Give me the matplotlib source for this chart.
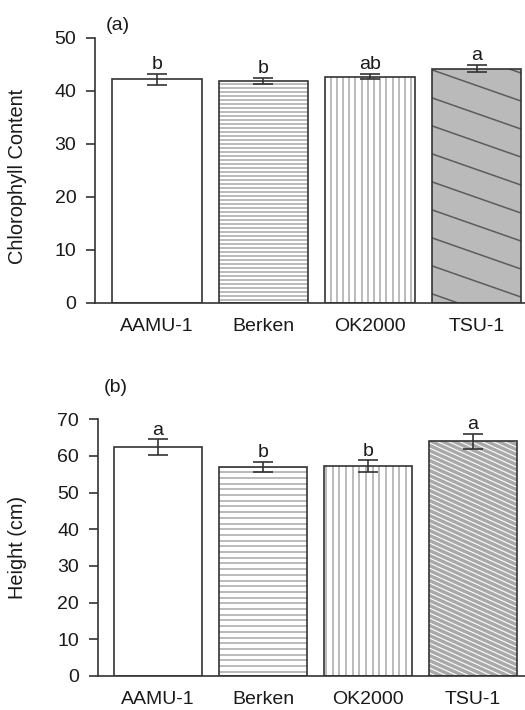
import numpy as np
import matplotlib
matplotlib.use('Agg')
import matplotlib.pyplot as plt
from matplotlib.collections import LineCollection

cultivars = ['AAMU-1', 'Berken', 'OK2000', 'TSU-1']
chlorophyll = [42.2, 41.9, 42.7, 44.2]
chlorophyll_se = [1.0, 0.6, 0.5, 0.7]
chlorophyll_letters = ['b', 'b', 'ab', 'a']
height = [62.4, 57.0, 57.2, 64.0]
height_se = [2.1, 1.35, 1.6, 2.0]
height_letters = ['a', 'b', 'b', 'a']

plt.rcParams['font.family'] = ['Liberation Sans', 'DejaVu Sans']

FW, FH = 525, 710
fig = plt.figure(figsize=(FW / 100, FH / 100), dpi=100)
DARK = '#333333'
STRIPE = '#a8a8a8'
TXT = '#1a1a1a'
FS = 14


def add_texture(ax, patch, kind, spacing_px, color, lw, slope=0.0):
    """Decorative fill lines clipped to a bar (pattern only, no data)."""
    pos = ax.get_position()
    W = pos.width * FW
    H = pos.height * FH
    if kind == 'v':
        du = spacing_px / W
        segs = [[(u, 0), (u, 1)] for u in np.arange(0, 1, du)]
    else:
        k = slope * W / H
        dv = spacing_px / H
        cs = np.arange(-0.05, 1 + k + 0.05, dv)
        segs = [[(0, c), (1, c - k)] for c in cs]
    lc = LineCollection(segs, transform=ax.transAxes, colors=color,
                        linewidths=lw, zorder=2.5)
    ax.add_collection(lc, autolim=False)
    lc.set_clip_path(patch)


def panel(rect, vals, errs, letters, ylim, yticks, xlim, textures, tsu_face, xpad):
    ax = fig.add_axes(rect)
    x = np.arange(len(cultivars))
    w = 0.84
    faces = ['white', 'white', 'white', tsu_face]
    bars = ax.bar(x, vals, width=w, color=faces, linewidth=0, zorder=2)
    ax.bar(x, vals, width=w, fill=False, edgecolor=DARK, linewidth=1.2, zorder=3)
    for i, tex in textures.items():
        add_texture(ax, bars[i], *tex)
    ax.errorbar(x, vals, yerr=errs, fmt='none', ecolor=DARK, elinewidth=1.2,
                capsize=7, capthick=1.2, zorder=5)
    for xi, v, e, l in zip(x, vals, errs, letters):
        ax.annotate(l, (xi, v + e), xytext=(0, 3.5), textcoords='offset points',
                    ha='center', va='baseline', fontsize=FS, color=TXT)
    ax.set_xlim(*xlim)
    ax.set_ylim(*ylim)
    ax.set_yticks(yticks)
    ax.set_xticks(x)
    ax.set_xticklabels(cultivars)
    for s in ['top', 'right']:
        ax.spines[s].set_visible(False)
    for s in ['left', 'bottom']:
        ax.spines[s].set_color(DARK)
        ax.spines[s].set_linewidth(1.2)
    ax.tick_params(axis='y', length=6.5, width=1.2, color=DARK, pad=7,
                   labelsize=FS, labelcolor=TXT)
    ax.tick_params(axis='x', length=0, pad=xpad, labelsize=FS, labelcolor=TXT)
    return ax


top_rect = [95 / FW, 1 - 302.7 / FH, 1 - 95 / FW, (302.7 - 38) / FH]
ax1 = panel(top_rect, chlorophyll, chlorophyll_se, chlorophyll_letters,
            (0, 50), [0, 10, 20, 30, 40, 50], (-0.58, 3.455),
            {1: ('h', 4.0, STRIPE, 1.1),
             2: ('v', 6.2, STRIPE, 1.1),
             3: ('h', 28, '#5c5c5c', 1.1, 0.35)},
            '#bababa', 11)

bot_rect = [98 / FW, 1 - 676 / FH, 1 - 98 / FW, (676 - 419.3) / FH]
ax2 = panel(bot_rect, height, height_se, height_letters,
            (0, 70), [0, 10, 20, 30, 40, 50, 60, 70], (-0.571, 3.495),
            {1: ('h', 5.7, STRIPE, 1.1),
             2: ('v', 6.7, STRIPE, 1.1),
             3: ('h', 5.0, 'white', 0.8, 0.45)},
            '#a9a9a9', 11)

fig.text(18 / FW, 1 - 176 / FH, 'Chlorophyll Content', rotation=90,
         ha='center', va='center', fontsize=14.4, color=TXT)
fig.text(18 / FW, 1 - 547 / FH, 'Height (cm)', rotation=90,
         ha='center', va='center', fontsize=14.3, color=TXT)
fig.text(106 / FW, 1 - 25 / FH, '(a)', ha='left', va='center',
         fontsize=FS, color=TXT)
fig.text(104 / FW, 1 - 387 / FH, '(b)', ha='left', va='center',
         fontsize=FS, color=TXT)

fig.savefig('out.png', dpi=100, facecolor='white')
